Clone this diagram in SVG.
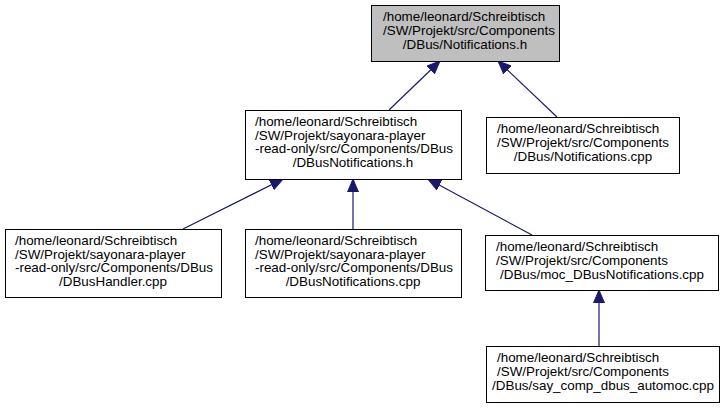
<svg xmlns="http://www.w3.org/2000/svg" width="724" height="408" viewBox="0 0 724 408">
<style>
.n rect{fill:#ffffff;stroke:#000000;stroke-width:1}
#nA rect{fill:#bfbfbf}
text{font-family:"Liberation Sans",Arial,Helvetica,sans-serif;font-size:13.4px;fill:#000000}
.m{text-anchor:middle}
.e line{stroke:#191970;stroke-width:1.2}
</style>
<defs>
<marker id="ah" markerUnits="userSpaceOnUse" markerWidth="14" markerHeight="12" refX="13" refY="5.5" orient="auto" viewBox="0 0 14 11">
<path d="M0,0 L13,5.5 L0,11 z" fill="#191970" stroke="#191970" stroke-width="1"/>
</marker>
</defs>
<g id="edges" class="e">
<line x1="389" y1="110" x2="440" y2="61" marker-end="url(#ah)"/>
<line x1="557" y1="117" x2="498" y2="61" marker-end="url(#ah)"/>
<line x1="183" y1="229" x2="283" y2="179" marker-end="url(#ah)"/>
<line x1="353" y1="229" x2="353" y2="179" marker-end="url(#ah)"/>
<line x1="532" y1="235" x2="428" y2="179" marker-end="url(#ah)"/>
<line x1="599" y1="346" x2="599" y2="290" marker-end="url(#ah)"/>
</g>
<g id="nA" class="n">
<rect x="371.5" y="5.5" width="188" height="56"/>
<text x="383" y="21">/home/leonard/Schreibtisch</text>
<text x="383" y="35">/SW/Projekt/src/Components</text>
<text x="465" y="49" class="m">/DBus/Notifications.h</text>
</g>
<g id="nB" class="n">
<rect x="245.5" y="110.5" width="216" height="69"/>
<text x="255" y="126">/home/leonard/Schreibtisch</text>
<text x="255" y="139.5">/SW/Projekt/sayonara-player</text>
<text x="255" y="153">-read-only/src/Components/DBus</text>
<text x="353" y="166.5" class="m">/DBusNotifications.h</text>
</g>
<g id="nC" class="n">
<rect x="486.5" y="117.5" width="193" height="56"/>
<text x="497" y="133">/home/leonard/Schreibtisch</text>
<text x="497" y="147">/SW/Projekt/src/Components</text>
<text x="583" y="161" class="m">/DBus/Notifications.cpp</text>
</g>
<g id="nD" class="n">
<rect x="5.5" y="229.5" width="216" height="68"/>
<text x="15" y="245">/home/leonard/Schreibtisch</text>
<text x="15" y="258.5">/SW/Projekt/sayonara-player</text>
<text x="15" y="272">-read-only/src/Components/DBus</text>
<text x="113" y="285.5" class="m">/DBusHandler.cpp</text>
</g>
<g id="nE" class="n">
<rect x="245.5" y="229.5" width="216" height="68"/>
<text x="255" y="245">/home/leonard/Schreibtisch</text>
<text x="255" y="258.5">/SW/Projekt/sayonara-player</text>
<text x="255" y="272">-read-only/src/Components/DBus</text>
<text x="353" y="285.5" class="m">/DBusNotifications.cpp</text>
</g>
<g id="nF" class="n">
<rect x="485.5" y="235.5" width="233" height="55"/>
<text x="496" y="251">/home/leonard/Schreibtisch</text>
<text x="496" y="265">/SW/Projekt/src/Components</text>
<text x="602" y="279" class="m">/DBus/moc_DBusNotifications.cpp</text>
</g>
<g id="nG" class="n">
<rect x="486.5" y="346.5" width="233" height="56"/>
<text x="497" y="362">/home/leonard/Schreibtisch</text>
<text x="497" y="376">/SW/Projekt/src/Components</text>
<text x="603" y="390" class="m">/DBus/say_comp_dbus_automoc.cpp</text>
</g>
</svg>
